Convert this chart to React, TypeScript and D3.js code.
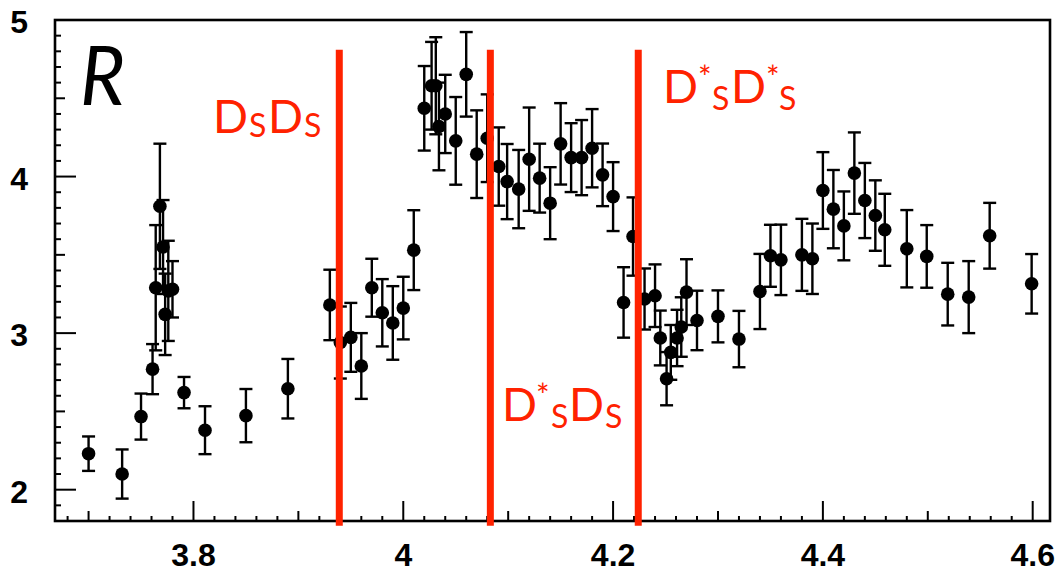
import React from "react";
import * as d3 from "d3";

// ---- data ----
const energy = [
  3.700, 3.732, 3.750, 3.761, 3.764, 3.768, 3.771, 3.773, 3.776, 3.780,
  3.791, 3.811, 3.850, 3.890, 3.930, 3.940, 3.950, 3.960, 3.970, 3.980,
  3.990, 4.000, 4.010, 4.020, 4.027, 4.031, 4.034, 4.040, 4.050, 4.060,
  4.070, 4.080, 4.091, 4.099, 4.110, 4.120, 4.130, 4.140, 4.150, 4.160,
  4.170, 4.180, 4.190, 4.200, 4.210, 4.219, 4.230, 4.240, 4.245, 4.251,
  4.255, 4.261, 4.265, 4.270, 4.280, 4.300, 4.320, 4.340, 4.350, 4.360,
  4.380, 4.390, 4.400, 4.410, 4.420, 4.430, 4.440, 4.450, 4.459, 4.480,
  4.499, 4.519, 4.539, 4.559, 4.599,
];
const rValue = [
  2.23, 2.10, 2.467, 2.77, 3.29, 3.81, 3.55, 3.12, 3.27, 3.28,
  2.62, 2.38, 2.473, 2.645, 3.18, 2.94, 2.973, 2.79, 3.29, 3.13,
  3.065, 3.16, 3.53, 4.436, 4.58, 4.58, 4.32, 4.40, 4.228, 4.653,
  4.143, 4.245, 4.064, 3.968, 3.92, 4.111, 3.99, 3.83, 4.209, 4.121,
  4.121, 4.181, 4.011, 3.872, 3.196, 3.617, 3.218, 3.239, 2.969, 2.709,
  2.877, 2.969, 3.039, 3.262, 3.081, 3.107, 2.962, 3.266, 3.494, 3.468,
  3.50, 3.475, 3.911, 3.792, 3.685, 4.022, 3.847, 3.751, 3.66, 3.539,
  3.49, 3.249, 3.23, 3.622, 3.315,
];
const rError = [
  0.11, 0.157, 0.147, 0.16, 0.40, 0.40, 0.30, 0.26, 0.32, 0.18,
  0.10, 0.153, 0.17, 0.19, 0.225, 0.23, 0.22, 0.21, 0.185, 0.215,
  0.235, 0.20, 0.255, 0.27, 0.28, 0.31, 0.28, 0.25, 0.28, 0.27,
  0.28, 0.28, 0.25, 0.24, 0.25, 0.33, 0.22, 0.23, 0.26, 0.22,
  0.24, 0.25, 0.20, 0.22, 0.225, 0.25, 0.195, 0.20, 0.175, 0.17,
  0.175, 0.18, 0.19, 0.21, 0.19, 0.166, 0.18, 0.24, 0.198, 0.225,
  0.23, 0.225, 0.245, 0.25, 0.22, 0.26, 0.24, 0.225, 0.23, 0.247,
  0.20, 0.20, 0.23, 0.21, 0.19,
];
const thresholds = [3.939, 4.083, 4.224];
const xTickLabels = ["3.8", "4", "4.2", "4.4", "4.6"];
const xTickValues = [3.8, 4.0, 4.2, 4.4, 4.6];
const yTickLabels = ["2", "3", "4", "5"];
const yTickValues = [2, 3, 4, 5];

const RED = "#ff2200";

export default function App() {
  const W = 1057, H = 572;
  const left = 55, right = 1050, top = 20, bottom = 521;
  const x = d3.scaleLinear().domain([3.668, 4.6165]).range([left, right]);
  const y = d3.scaleLinear().domain([1.8, 5.0]).range([bottom, top]);

  const xMinor = d3.range(184, 231).map((i) => ({ v: i / 50, len: i % 10 === 0 ? 20 : i % 5 === 0 ? 10 : 5 }));
  const yMinor = d3.range(18, 51).map((i) => ({ v: i / 10, len: i % 10 === 0 ? 21 : i % 5 === 0 ? 10 : 6 }));

  const pts = energy.map((e, i) => ({ e, r: rValue[i], err: rError[i] }));
  const cap = 6.5;
  const redFont = "Lato, 'Open Sans', sans-serif";

  return (
    <svg width={W} height={H} style={{ position: "fixed", left: 0, top: 0, background: "#fff" }}>
      <rect x={0} y={0} width={W} height={H} fill="#fff" />
      {/* ticks */}
      {xMinor.filter((t) => x(t.v) > left + 1 && x(t.v) < right - 1).map((t, i) => (
        <line key={"xt" + i} x1={x(t.v)} x2={x(t.v)} y1={bottom} y2={bottom - t.len} stroke="#000" strokeWidth={2} />
      ))}
      {yMinor.filter((t) => y(t.v) > top + 1).map((t, i) => (
        <line key={"yt" + i} x1={left} x2={left + t.len} y1={y(t.v)} y2={y(t.v)} stroke="#000" strokeWidth={2} />
      ))}
      {/* frame */}
      <rect x={left} y={top} width={right - left} height={bottom - top} fill="none" stroke="#000" strokeWidth={2.6} />
      {/* tick labels */}
      {xTickValues.map((v, i) => (
        <text key={"xl" + i} x={x(v)} y={566} textAnchor="middle" fontFamily="'Liberation Sans', Arial, sans-serif" fontWeight="bold" fontSize={32}>
          {xTickLabels[i]}
        </text>
      ))}
      {yTickValues.map((v, i) => (
        <text key={"yl" + i} x={28} y={y(v) + 13} textAnchor="end" fontFamily="'Liberation Sans', Arial, sans-serif" fontWeight="bold" fontSize={32}>
          {yTickLabels[i]}
        </text>
      ))}
      {/* data points with error bars */}
      {pts.map((p, i) => {
        const cx = x(p.e);
        const y1 = y(p.r + p.err);
        const y2 = y(p.r - p.err);
        return (
          <g key={"p" + i}>
            <line x1={cx} x2={cx} y1={y1} y2={y2} stroke="#000" strokeWidth={2.4} />
            <line x1={cx - cap} x2={cx + cap} y1={y1} y2={y1} stroke="#000" strokeWidth={2.4} />
            <line x1={cx - cap} x2={cx + cap} y1={y2} y2={y2} stroke="#000" strokeWidth={2.4} />
            <circle cx={cx} cy={y(p.r)} r={6.8} fill="#000" />
          </g>
        );
      })}
      {/* threshold lines */}
      {thresholds.map((t, i) => (
        <line key={"th" + i} x1={x(t)} x2={x(t)} y1={y(4.81)} y2={y(1.77)} stroke={RED} strokeWidth={7} />
      ))}
      {/* R label */}
      <text x={80} y={105} fontFamily="Lato, 'Open Sans', sans-serif" fontStyle="italic" fontSize={82} textLength={45} lengthAdjust="spacingAndGlyphs" fill="#000">R</text>
      {/* DsDs */}
      <text fill={RED} fontFamily={redFont} y={133}>
        <tspan x={213} fontSize={46}>D</tspan>
        <tspan x={249} dy={4} fontSize={32}>S</tspan>
        <tspan x={268} dy={-4} fontSize={46}>D</tspan>
        <tspan x={304} dy={4} fontSize={32}>S</tspan>
      </text>
      {/* D*sDs */}
      <text fill={RED} fontFamily={redFont} y={421}>
        <tspan x={502} fontSize={46}>D</tspan>
        <tspan x={536} dy={-14} fontSize={32}>*</tspan>
        <tspan x={551} dy={21} fontSize={32}>S</tspan>
        <tspan x={569} dy={-7} fontSize={46}>D</tspan>
        <tspan x={605} dy={7} fontSize={32}>S</tspan>
      </text>
      {/* D*sD*s */}
      <text fill={RED} fontFamily={redFont} y={103}>
        <tspan x={663} fontSize={46}>D</tspan>
        <tspan x={698} dy={-14} fontSize={32}>*</tspan>
        <tspan x={712} dy={21} fontSize={32}>S</tspan>
        <tspan x={731} dy={-7} fontSize={46}>D</tspan>
        <tspan x={766} dy={-14} fontSize={32}>*</tspan>
        <tspan x={779} dy={21} fontSize={32}>S</tspan>
      </text>
    </svg>
  );
}
